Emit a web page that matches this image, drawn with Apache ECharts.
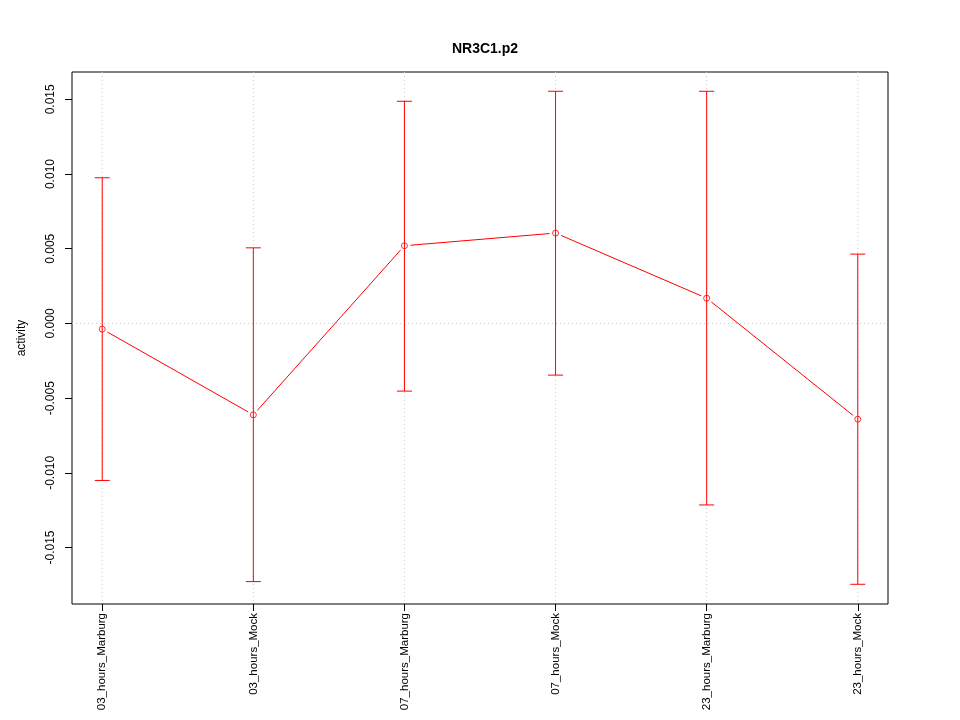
<!DOCTYPE html>
<html>
<head>
<meta charset="utf-8">
<script src="https://cdn.jsdelivr.net/npm/echarts@6/dist/echarts.min.js"></script>
<style>html,body{margin:0;padding:0;background:#fff}#c{width:960px;height:720px}</style>
</head>
<body>
<div id="c"></div>
<script>
const title = 'NR3C1.p2';
const yName = 'activity';
const categories = ['03_hours_Marburg','03_hours_Mock','07_hours_Marburg','07_hours_Mock','23_hours_Marburg','23_hours_Mock'];
const means = [-0.00038, -0.00612, 0.00520, 0.00605, 0.00169, -0.00641];
const upper = [0.00975, 0.00506, 0.01487, 0.01554, 0.01554, 0.00464];
const lower = [-0.01051, -0.01728, -0.00453, -0.00346, -0.01215, -0.01746];
const yTicks = [-0.015, -0.010, -0.005, 0.000, 0.005, 0.010, 0.015];
const yMin = -0.01878, yMax = 0.01683;
const xMin = -0.2, xMax = 5.2;

const FONT = 'Liberation Sans, Arial, Helvetica, sans-serif';
const RED = '#ff0000';
const xIdx = categories.map((c, i) => i);

const barData = categories.map((c, i) => [i, lower[i], upper[i]]);
const segData = [];
for (let i = 1; i < categories.length; i++) segData.push([i, means[i], means[i - 1]]);

const chart = echarts.init(document.getElementById('c'), null, {renderer: 'canvas'});
chart.setOption({
  backgroundColor: '#fff',
  animation: false,
  title: {
    text: title, left: 480, top: 37, textAlign: 'center',
    textStyle: {fontFamily: FONT, fontSize: 14, fontWeight: 'bold', color: '#000'}
  },
  grid: {left: 72, right: 72, top: 72, bottom: 116, show: true, borderColor: '#000', borderWidth: 1, backgroundColor: 'transparent'},
  xAxis: {
    type: 'value', min: xMin, max: xMax,
    axisLine: {show: false, onZero: false},
    splitLine: {show: false},
    axisTick: {show: true, length: 7, customValues: xIdx, lineStyle: {color: '#000'}},
    axisLabel: {
      customValues: xIdx, rotate: 90, margin: 9,
      fontFamily: FONT, fontSize: 11.5, color: '#000',
      formatter: v => categories[Math.round(v)]
    }
  },
  yAxis: {
    type: 'value', min: yMin, max: yMax,
    name: yName, nameLocation: 'middle', nameGap: 44, nameRotate: 90,
    nameTextStyle: {fontFamily: FONT, fontSize: 12, color: '#000'},
    axisLine: {show: false, onZero: false},
    splitLine: {show: false},
    axisTick: {show: true, length: 7, customValues: yTicks, lineStyle: {color: '#000'}},
    axisLabel: {
      customValues: yTicks, rotate: 90, margin: 15,
      fontFamily: FONT, fontSize: 12, color: '#000',
      formatter: v => v.toFixed(3)
    }
  },
  series: [
    {
      type: 'custom', silent: true, clip: false,
      data: barData,
      renderItem: function (params, api) {
        const cs = params.coordSys;
        const i = api.value(0);
        const x = api.coord([i, 0])[0];
        const yl = api.coord([i, api.value(1)])[1];
        const yu = api.coord([i, api.value(2)])[1];
        const children = [];
        children.push({type: 'line', shape: {x1: x, y1: cs.y, x2: x, y2: cs.y + cs.height},
          style: {stroke: '#cccccc', lineWidth: 1, lineDash: [1, 3]}});
        if (params.dataIndex === 0) {
          const y0 = api.coord([0, 0])[1];
          children.push({type: 'line', shape: {x1: cs.x, y1: y0, x2: cs.x + cs.width, y2: y0},
            style: {stroke: '#cccccc', lineWidth: 1, lineDash: [1, 3]}});
        }
        children.push({type: 'line', shape: {x1: x, y1: yl, x2: x, y2: yu}, style: {stroke: RED, lineWidth: 1}});
        children.push({type: 'line', shape: {x1: x - 7.5, y1: yl, x2: x + 7.5, y2: yl}, style: {stroke: RED, lineWidth: 1}});
        children.push({type: 'line', shape: {x1: x - 7.5, y1: yu, x2: x + 7.5, y2: yu}, style: {stroke: RED, lineWidth: 1}});
        return {type: 'group', children: children};
      }
    },
    {
      type: 'custom', silent: true, clip: false,
      data: segData,
      renderItem: function (params, api) {
        const i = api.value(0);
        const p1 = api.coord([i, api.value(1)]);
        const p0 = api.coord([i - 1, api.value(2)]);
        const dx = p1[0] - p0[0], dy = p1[1] - p0[1];
        const len = Math.sqrt(dx * dx + dy * dy);
        const g = 6;
        const ux = dx / len, uy = dy / len;
        return {type: 'line', shape: {x1: p0[0] + ux * g, y1: p0[1] + uy * g, x2: p1[0] - ux * g, y2: p1[1] - uy * g},
          style: {stroke: RED, lineWidth: 1}};
      }
    },
    {
      type: 'scatter', silent: true,
      data: categories.map((c, i) => [i, means[i]]),
      symbol: 'circle', symbolSize: 6,
      itemStyle: {color: 'rgba(255,255,255,0)', borderColor: RED, borderWidth: 1}
    }
  ]
});
</script>
</body>
</html>
